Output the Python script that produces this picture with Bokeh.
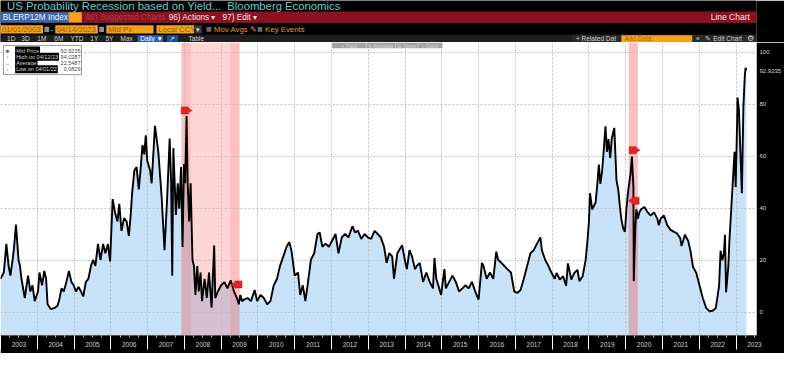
from bokeh.plotting import figure
from bokeh.layouts import column
from bokeh.models import Range1d, FixedTicker, Label
from bokeh.core.properties import value
from bokeh.embed import file_html
from bokeh.resources import INLINE

# ---------------- data ----------------
dates = [
    2003.00, 2003.09, 2003.16, 2003.22, 2003.27, 2003.34, 2003.37, 2003.42, 2003.49, 2003.53,
    2003.57, 2003.66, 2003.71, 2003.75, 2003.81, 2003.87, 2003.93,
    2004.02, 2004.06, 2004.13, 2004.19, 2004.24, 2004.28, 2004.37, 2004.46, 2004.55, 2004.59,
    2004.66, 2004.72, 2004.79, 2004.86, 2004.93, 2004.99,
    2005.05, 2005.12, 2005.19, 2005.25, 2005.32, 2005.39, 2005.46, 2005.52, 2005.58, 2005.65,
    2005.72, 2005.79, 2005.85, 2005.92, 2005.98,
    2006.05, 2006.11, 2006.18, 2006.23, 2006.29, 2006.36, 2006.43, 2006.49, 2006.54, 2006.58,
    2006.64, 2006.70, 2006.76, 2006.80, 2006.86, 2006.91, 2006.95, 2006.99,
    2007.07, 2007.11, 2007.20, 2007.29, 2007.38, 2007.46, 2007.53, 2007.60, 2007.64, 2007.67,
    2007.70, 2007.77, 2007.82, 2007.86, 2007.91, 2007.95, 2007.99,
    2008.02, 2008.06, 2008.09, 2008.13, 2008.17, 2008.22, 2008.26, 2008.30, 2008.35, 2008.39,
    2008.44, 2008.48, 2008.55, 2008.61, 2008.67, 2008.74, 2008.81, 2008.84, 2008.91,
    2009.00, 2009.09, 2009.17, 2009.26, 2009.35, 2009.43, 2009.48, 2009.52, 2009.57, 2009.63,
    2009.72, 2009.81, 2009.91, 2009.98,
    2010.07, 2010.16, 2010.25, 2010.34, 2010.43, 2010.52, 2010.60, 2010.69, 2010.78, 2010.85,
    2010.91,
    2011.00, 2011.09, 2011.15, 2011.22, 2011.29, 2011.35, 2011.44, 2011.53, 2011.62, 2011.68,
    2011.75, 2011.84, 2011.93,
    2012.02, 2012.11, 2012.19, 2012.28, 2012.37, 2012.46, 2012.57, 2012.64, 2012.72, 2012.81,
    2012.90, 2012.99,
    2013.08, 2013.17, 2013.26, 2013.34, 2013.43, 2013.50, 2013.57, 2013.65, 2013.70, 2013.79,
    2013.92,
    2014.01, 2014.05, 2014.12, 2014.19, 2014.27, 2014.32, 2014.40, 2014.49, 2014.58, 2014.67,
    2014.76, 2014.80, 2014.85, 2014.93, 2014.98,
    2015.07, 2015.11, 2015.20, 2015.29, 2015.38, 2015.47, 2015.56, 2015.64, 2015.73, 2015.82,
    2015.91,
    2016.00, 2016.09, 2016.13, 2016.22, 2016.31, 2016.40, 2016.48, 2016.53, 2016.62, 2016.70,
    2016.79, 2016.88, 2016.97,
    2017.06, 2017.14, 2017.23, 2017.32, 2017.41, 2017.50, 2017.59, 2017.68, 2017.72, 2017.81,
    2017.90, 2017.98,
    2018.07, 2018.12, 2018.21, 2018.30, 2018.38, 2018.43, 2018.52, 2018.60, 2018.69, 2018.74,
    2018.83, 2018.91, 2018.96,
    2019.00, 2019.03, 2019.09, 2019.18, 2019.23, 2019.27, 2019.31, 2019.36, 2019.40, 2019.45,
    2019.49, 2019.53, 2019.58, 2019.62, 2019.69, 2019.75, 2019.80, 2019.84, 2019.88, 2019.93,
    2019.98,
    2020.02, 2020.06, 2020.13, 2020.17, 2020.21, 2020.22, 2020.26, 2020.29, 2020.33, 2020.37,
    2020.42, 2020.51, 2020.60, 2020.68, 2020.77, 2020.86, 2020.90, 2020.95,
    2021.04, 2021.13, 2021.22, 2021.30, 2021.39, 2021.48, 2021.52, 2021.61, 2021.70, 2021.76,
    2021.83, 2021.92,
    2022.01, 2022.10, 2022.19, 2022.28, 2022.36, 2022.45, 2022.54, 2022.58, 2022.63, 2022.67,
    2022.70, 2022.73, 2022.79, 2022.82, 2022.87, 2022.93, 2022.96, 2022.99,
    2023.03, 2023.04, 2023.08, 2023.11, 2023.16, 2023.20, 2023.24, 2023.26, 2023.28,
]
values = [
    12.9, 15.3, 26.3, 17.8, 14.1, 21.4, 25.1, 33.7, 20.2, 17.8,
    12.9, 5.5, 10.4, 14.1, 8.0, 10.4, 4.3,
    8.0, 15.3, 10.4, 15.9, 12.9, 3.1, 1.2, 1.6, 2.5, 4.3,
    9.2, 8.0, 11.6, 15.9, 11.6, 10.4,
    8.0, 9.8, 8.0, 6.1, 11.6, 12.9, 17.8, 20.2, 17.8, 26.3,
    20.2, 26.3, 22.7, 26.3, 19.6,
    43.5, 38.6, 34.9, 41.7, 31.3, 36.2, 34.9, 29.4, 37.4, 46.0,
    54.5, 55.8, 47.2, 53.3, 64.3, 60.7, 68.0, 58.2,
    54.5, 49.6, 71.7, 61.9, 44.7, 23.9, 43.5, 66.8, 49.6, 14.1,
    63.1, 37.4, 49.6, 39.8, 55.8, 25.1, 57.0,
    49.6, 75.4, 49.6, 34.9, 49.6, 20.2, 17.8, 6.7, 17.8, 8.0,
    15.3, 4.3, 12.9, 5.5, 15.3, 1.8, 25.7, 5.5, 8.0,
    10.4, 11.6, 9.2, 12.3, 8.0, 5.5, 3.1, 6.7, 4.3, 5.0,
    5.5, 4.3, 8.6, 4.3,
    6.7, 5.5, 3.1, 4.3, 10.4, 12.9, 17.8, 21.5, 25.2, 27.0,
    23.9,
    14.1, 15.3, 6.7, 10.4, 4.3, 10.4, 20.2, 22.7, 30.1, 30.7,
    25.2, 26.4, 25.2,
    27.6, 30.1, 22.7, 28.8, 30.1, 28.8, 33.1, 30.7, 31.3, 28.2,
    30.1, 28.8,
    28.2, 31.3, 30.1, 28.8, 25.2, 19.0, 22.7, 21.5, 12.9, 22.7,
    25.8,
    19.0, 16.6, 23.9, 21.5, 16.6, 17.8, 19.0, 11.7, 15.3, 11.7,
    9.2, 20.9, 12.9, 9.2, 6.7,
    16.6, 9.2, 11.7, 14.1, 11.7, 8.0, 9.2, 10.4, 9.2, 11.7,
    8.0,
    4.9, 19.0, 18.0, 12.9, 15.3, 12.9, 23.3, 20.2, 19.0, 17.8,
    16.5, 15.3, 8.0,
    7.5, 8.6, 12.9, 17.8, 22.7, 23.9, 26.4, 28.8, 23.9, 20.2,
    17.8, 15.3,
    12.9, 15.1, 12.6, 13.9, 10.2, 18.8, 12.6, 15.1, 16.3, 12.0,
    13.9, 20.0, 27.4,
    34.7, 45.8, 39.6, 42.1, 49.4, 56.8, 49.4, 54.4, 61.7, 71.5,
    61.7, 66.6, 59.3, 66.6, 70.9, 50.7, 47.0, 40.9, 36.0, 32.3,
    31.0,
    39.6, 45.8, 53.1, 59.9, 48.2, 12.0, 32.3, 39.6, 36.0, 38.4,
    39.6, 40.5, 38.4, 37.2, 38.4, 36.0, 33.5, 36.0,
    37.2, 33.5, 31.7, 31.0, 30.4, 28.6, 25.5, 29.8, 27.4, 23.7,
    17.5, 15.1,
    10.2, 5.3, 1.6, 0.4, 0.6, 1.6, 10.2, 23.7, 20.0, 22.5,
    29.8, 7.7, 17.5, 27.4, 39.6, 54.4, 61.7, 48.2,
    72.8, 82.6, 77.7, 65.4, 45.8, 78.9, 91.2, 94.0, 92.9,
]

recession_start = [2007.92, 2020.08]
recession_end = [2009.50, 2020.33]

event_dates = [2008.01, 2009.47, 2020.19, 2020.27]
event_values = [77.6, 10.7, 62.3, 42.9]
event_pointing = ["right", "left", "right", "left"]

year_labels = [str(y) for y in range(2003, 2024)]
y_ticks = [0, 20, 40, 60, 80, 100]
y_tick_labels = ["0", "20", "40", "60", "80", "100"]

legend_labels = ["Mid Price", "High on 04/12/23", "Average", "Low on 04/01/22"]
legend_values = ["92.9235", "94.0287", "22.5487", "0.0829"]
last_value_text = "92.9235"
last_value = 92.9235

chart_buttons = ["+ Track", "\u270e Annotate", "\u25a4 News", "\u2315 Zoom"]

# ---------------- layout constants ----------------
W = 784
H_HEAD = 42
H_CHART = 311
FONT = "Liberation Sans"
X0, X1 = 2003.0, 2023.557
Y0, Y1 = -8.9, 103.7


def rx(px):  # reference pixel -> year (chart frame)
    return 2003.0 + px / 37.7


def ry(py):  # reference pixel -> value (chart frame)
    return (326.0 - py) / 2.72


# ---------------- header (Bloomberg terminal bars) ----------------
head = figure(width=W, height=H_HEAD, x_range=Range1d(0, 800), y_range=Range1d(44, 0),
              output_backend="svg", toolbar_location=None, min_border=0,
              x_axis_location=None, y_axis_location=None)
head.grid.visible = False
head.outline_line_color = None
head.background_fill_color = "black"
head.border_fill_color = "black"

boxes = [
    # left, right, top, bottom, colour
    (0, 800, 11.5, 23.5, "#8b1121"),
    (0, 72, 12.2, 23.0, "#3767ad"),
    (72, 86, 12.2, 23.0, "#f3a11f"),
    (0, 45, 26.0, 34.5, "#f3a11f"),
    (58, 103, 26.0, 34.5, "#f3a11f"),
    (112, 162, 26.0, 34.5, "#f3a11f"),
    (165, 205, 26.0, 34.5, "#f3a11f"),
    (46.5, 51.5, 27.5, 33.0, "#8f8f8f"),
    (104.5, 109.5, 27.5, 33.0, "#8f8f8f"),
    (206, 213, 26.0, 34.5, "#3a3a3a"),
    (218, 223, 27.8, 32.8, "#6a6a6a"),
    (272, 277, 27.8, 32.8, "#6a6a6a"),
    (0, 800, 35.8, 44.0, "#1e1e1e"),
    (605, 800, 35.8, 44.0, "#2a2a2a"),
    (145, 172, 36.3, 43.6, "#2c61b8"),
    (176, 188, 36.3, 43.6, "#1c4f9e"),
    (657, 732, 36.3, 43.6, "#f3a11f"),
]
head.quad(left=[b[0] for b in boxes], right=[b[1] for b in boxes],
          top=[b[2] for b in boxes], bottom=[b[3] for b in boxes],
          fill_color=[b[4] for b in boxes], line_color=None)

texts = [
    # x, y, text, size, colour
    (7, 6.0, "US Probability Recession based on Yield...", "11.3px", "#66c7c9"),
    (240, 6.0, "Bloomberg Economics", "11.3px", "#66c7c9"),
    (2.5, 17.8, "BLERP12M Index", "8.2px", "#eef2fa"),
    (90, 17.8, "96) Suggested Charts", "8.2px", "#a9404e"),
    (178, 17.8, "96) Actions \u25be", "8.2px", "#f4e2e2"),
    (235, 17.8, "97) Edit \u25be", "8.2px", "#f4e2e2"),
    (1.5, 30.3, "01/01/2003", "7.8px", "#9a5800"),
    (53, 30.3, "-", "8px", "#dddddd"),
    (59.5, 30.3, "04/14/2023", "7.8px", "#9a5800"),
    (114, 30.3, "Mid Px", "7.8px", "#9a5800"),
    (167, 30.3, "Local CCY", "7.8px", "#9a5800"),
    (207.3, 30.3, "\u25be", "7px", "#dddddd"),
    (226, 30.3, "Mov Avgs \u270e", "7.8px", "#e49a2a"),
    (280, 30.3, "Key Events", "7.8px", "#e49a2a"),
    (7, 40.2, "1D", "6.5px", "#d4d4d4"),
    (22, 40.2, "3D", "6.5px", "#d4d4d4"),
    (39, 40.2, "1M", "6.5px", "#d4d4d4"),
    (57, 40.2, "6M", "6.5px", "#d4d4d4"),
    (74, 40.2, "YTD", "6.5px", "#d4d4d4"),
    (95, 40.2, "1Y", "6.5px", "#d4d4d4"),
    (111, 40.2, "5Y", "6.5px", "#d4d4d4"),
    (127, 40.2, "Max", "6.5px", "#d4d4d4"),
    (148, 40.2, "Daily \u25bc", "6.5px", "#ffffff"),
    (178.5, 40.2, "\u2197", "6.5px", "#cfe0ff"),
    (199, 40.2, "Table", "6.5px", "#d4d4d4"),
    (609, 40.2, "+ Related Dat", "6.5px", "#d4d4d4"),
    (660, 40.2, "Add Data", "6.5px", "#b0690e"),
    (736, 40.2, "\u00ab", "6.5px", "#d4d4d4"),
    (746, 40.2, "\u270e Edit Chart", "6.5px", "#d4d4d4"),
    (790, 40.2, "\u2699", "7.5px", "#d4d4d4"),
]
head.text(x=[t[0] for t in texts], y=[t[1] for t in texts], text=[t[2] for t in texts],
          text_font_size=[t[3] for t in texts], text_color=[t[4] for t in texts],
          text_font=value(FONT), text_baseline="middle", text_align="left")
head.text(x=[793], y=[17.8], text=["Line Chart"], text_font_size="8.5px",
          text_color="#f4e4e4", text_font=value(FONT), text_baseline="middle",
          text_align="right")

# ---------------- chart ----------------
p = figure(width=W, height=H_CHART, x_range=Range1d(X0, X1), y_range=Range1d(Y0, Y1),
           output_backend="svg", toolbar_location=None, y_axis_location="right",
           min_border_left=0, min_border_top=0, min_border_right=25, min_border_bottom=18)
p.background_fill_color = "white"
p.border_fill_color = "black"
p.outline_line_color = None

year_starts = list(range(2003, 2024))
quarters = [y + q for y in range(2003, 2024) for q in (0.25, 0.5, 0.75) if y + q < X1]
overrides = {}
for t in quarters:
    overrides[t] = year_labels[int(t) - 2003] if (t % 1) == 0.5 else ""

xa = p.xaxis[0]
xa.ticker = FixedTicker(ticks=quarters, minor_ticks=year_starts)
xa.major_label_overrides = overrides
xa.major_tick_line_color = "#bbbbbb"
xa.major_tick_out = 2
xa.major_tick_in = 0
xa.minor_tick_line_color = "white"
xa.minor_tick_out = 14
xa.minor_tick_in = 0
xa.axis_line_color = "#555555"
xa.major_label_text_color = "#cfcfcf"
xa.major_label_text_font_size = "6.5px"
xa.major_label_text_font = FONT
xa.major_label_standoff = -8

# right axis: 0..100 plus the last-price tag
ya = p.yaxis[0]
ya.ticker = FixedTicker(ticks=y_ticks + [last_value])
y_over = {t: s for t, s in zip(y_ticks, y_tick_labels)}
y_over[last_value] = last_value_text
ya.major_label_overrides = y_over
ya.major_tick_line_color = None
ya.major_tick_out = 0
ya.minor_tick_line_color = None
ya.axis_line_color = None
ya.major_label_text_color = "#d6d6d6"
ya.major_label_text_font_size = "6px"
ya.major_label_text_font = FONT
ya.major_label_standoff = 3

p.xgrid.ticker = FixedTicker(ticks=year_starts)
p.ygrid.ticker = FixedTicker(ticks=y_ticks)
for g in (p.xgrid[0], p.ygrid[0]):
    g.grid_line_color = "#bdbdbd"
    g.grid_line_dash = "2 2"
    g.grid_line_width = 1

# area under the line
p.varea(x=dates, y1=Y0, y2=values, fill_color="#c7e2f9", level="image")
# recession shading (lighter centre, darker edges)
p.quad(left=recession_start, right=recession_end, top=Y1, bottom=Y0,
       fill_color="#ff5f5f", fill_alpha=0.26, line_color=None, level="image")
edge_w = [min(0.25, (e - s) / 2) for s, e in zip(recession_start, recession_end)]
edge_left = [s for s in recession_start] + [e - w for e, w in zip(recession_end, edge_w)]
edge_right = [s + w for s, w in zip(recession_start, edge_w)] + [e for e in recession_end]
p.quad(left=edge_left, right=edge_right, top=Y1, bottom=Y0,
       fill_color="#f25555", fill_alpha=0.17, line_color=None, level="image")
# series
p.line(dates, values, line_color="black", line_width=1.9)

# key-event flags
dx = 4.0 / 37.7
tips_x = [d + dx if s == "right" else d - dx for d, s in zip(event_dates, event_pointing)]
angles = [-1.5708 if s == "right" else 1.5708 for s in event_pointing]
p.scatter(event_dates, event_values, marker="square", size=7, fill_color="#e8202a",
          line_color="#b01010", line_width=0.5)
p.scatter(tips_x, event_values, marker="triangle", size=7, angle=angles,
          fill_color="#e8202a", line_color=None)

# small chart button strip at the top
btn_edges = [340, 375, 405, 428, 453]
p.quad(left=[rx(btn_edges[0])], right=[rx(btn_edges[-1])], top=[ry(44)], bottom=[ry(50)],
       fill_color="#a3a3a3", line_color=None)
p.segment(x0=[rx(e) for e in btn_edges[1:-1]], y0=ry(44), x1=[rx(e) for e in btn_edges[1:-1]],
          y1=ry(50), line_color="#c4c4c4", line_width=1)
p.text(x=[rx((a + b) / 2) for a, b in zip(btn_edges[:-1], btn_edges[1:])], y=ry(47.2),
       text=chart_buttons, text_font=value(FONT), text_font_size="5px",
       text_color="#d6d6d6", text_align="center", text_baseline="middle")

# legend box (top-left of the chart)
p.quad(left=[rx(3)], right=[rx(83)], top=[ry(47)], bottom=[ry(77.5)],
       fill_color="white", line_color="#9a9a9a", line_width=1)
rows_py = [52.3, 58.8, 65.3, 71.8]
icons = ["\u25a0", "\u2191", "\u2192", "\u2193"]
for lab, val, py, ic in zip(legend_labels, legend_values, rows_py, icons):
    p.add_layout(Label(x=rx(15), y=ry(py), text=lab, text_font_size="5.5px",
                       text_font=FONT, text_color="#d8d8d8", text_baseline="middle",
                       background_fill_color="black", padding=1))
    p.add_layout(Label(x=rx(82), y=ry(py), text=val, text_font_size="5.5px",
                       text_font=FONT, text_color="#444444", text_baseline="middle",
                       text_align="right"))
    p.add_layout(Label(x=rx(7), y=ry(py), text=ic, text_font_size="5.5px",
                       text_font=FONT, text_color="#555555", text_baseline="middle",
                       text_align="center"))

layout = column(head, p, spacing=0)
open("out.html", "w").write(file_html(layout, INLINE))
